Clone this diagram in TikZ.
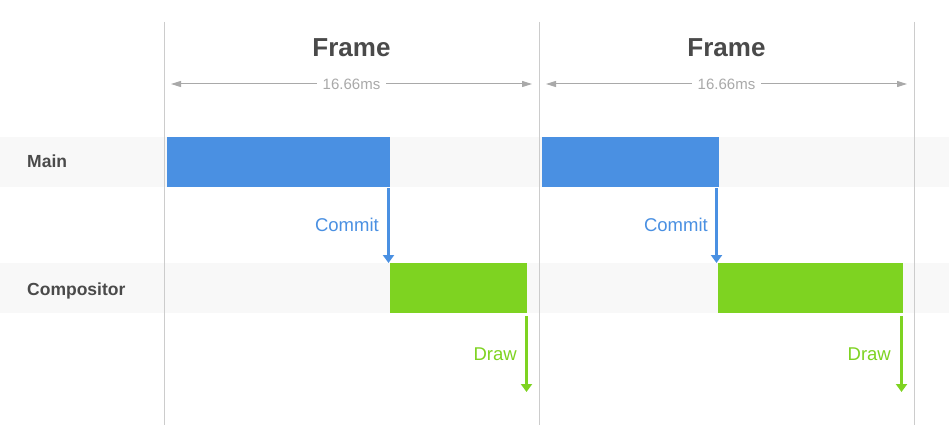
\documentclass[tikz,border=0pt]{standalone}
\usepackage{fontspec}
\setmainfont{Liberation Sans}
\usepackage{tikz}
\usetikzlibrary{arrows.meta}
\definecolor{TimelineBlue}{HTML}{4A90E2}
\definecolor{TimelineGreen}{HTML}{7ED321}
\definecolor{TimelineBand}{HTML}{F8F8F8}
\definecolor{TimelineGrid}{HTML}{CCCCCC}
\definecolor{TimelineInk}{HTML}{4A4A4A}
\definecolor{TimelineMute}{HTML}{A9A9A9}

\begin{document}
\begin{tikzpicture}[
  x=1pt,
  y=-1pt,
  band/.style={fill=TimelineBand},
  grid/.style={draw=TimelineGrid, line width=1pt},
  bar/.style={
    anchor=north west,
    inner sep=0pt,
    minimum height=50pt
  },
  mainbar/.style={bar, fill=TimelineBlue},
  compbar/.style={bar, fill=TimelineGreen},
  rowlabel/.style={anchor=base west, inner sep=0pt, font=\bfseries\fontsize{17.5}{20}\selectfont, text=TimelineInk},
  framelabel/.style={anchor=base, inner sep=0pt, font=\bfseries\fontsize{26}{30}\selectfont, text=TimelineInk},
  spanlabel/.style={anchor=base, fill=white, inner xsep=6pt, font=\fontsize{15}{18}\selectfont, text=TimelineMute},
  commitlabel/.style={anchor=base east, inner sep=0pt, font=\fontsize{18.5}{22}\selectfont, text=TimelineBlue},
  drawlabel/.style={anchor=base east, inner sep=0pt, font=\fontsize{18.5}{22}\selectfont, text=TimelineGreen},
  spanarrow/.style={-{Triangle[length=10pt,width=6pt]}, line width=1pt, draw=TimelineMute},
  commitarrow/.style={-{Triangle[length=8pt,width=11pt]}, line width=3pt, draw=TimelineBlue},
  drawarrow/.style={-{Triangle[length=8pt,width=11pt]}, line width=3pt, draw=TimelineGreen}
]
\useasboundingbox[fill=white] (0,0) rectangle (949,446);

\fill[band] (0,137) rectangle (949,187);
\fill[band] (0,263) rectangle (949,313);

\foreach \gx in {164,539,914}
  \draw[grid] (\gx,22) -- (\gx,425);

\node[rowlabel] (main) at (27,167.5) {Main};
\node[rowlabel] (compositor) at (27,295) {Compositor};

\node[framelabel] (frameA) at (351.5,56.5) {Frame};
\node[framelabel] (frameB) at (726.5,56.5) {Frame};

\node[spanlabel] (spanA) at (351.5,90) {16.66ms};
\node[spanlabel] (spanB) at (726.5,90) {16.66ms};
\coordinate (spanAl) at (171,84);
\coordinate (spanAr) at (532,84);
\coordinate (spanBl) at (546,84);
\coordinate (spanBr) at (907,84);

\node[mainbar, minimum width=223pt] (mainA) at (167,137) {};
\node[compbar, minimum width=137pt] (compA) at (390,263) {};
\node[mainbar, minimum width=177pt] (mainB) at (542,137) {};
\node[compbar, minimum width=185pt] (compB) at (718,263) {};

\node[commitlabel] (commitA) at (379,232) {Commit};
\node[commitlabel] (commitB) at (708,232) {Commit};
\node[drawlabel] (drawA) at (517,360) {Draw};
\node[drawlabel] (drawB) at (891,360) {Draw};

\coordinate (drawAend) at (526.5,392);
\coordinate (drawBend) at (901.5,392);

\draw[spanarrow] (spanA.west |- spanAl) -- (spanAl);
\draw[spanarrow] (spanA.east |- spanAr) -- (spanAr);
\draw[spanarrow] (spanB.west |- spanBl) -- (spanBl);
\draw[spanarrow] (spanB.east |- spanBr) -- (spanBr);
\draw[commitarrow] ([xshift=-1.5pt,yshift=-1pt]compA.north west |- mainA.south) -- ([xshift=-1.5pt]compA.north west);
\draw[commitarrow] ([xshift=-1.5pt,yshift=-1pt]compB.north west |- mainB.south) -- ([xshift=-1.5pt]compB.north west);
\draw[drawarrow] (drawAend |- 0,316) -- (drawAend);
\draw[drawarrow] (drawBend |- 0,316) -- (drawBend);
\end{tikzpicture}
\end{document}
